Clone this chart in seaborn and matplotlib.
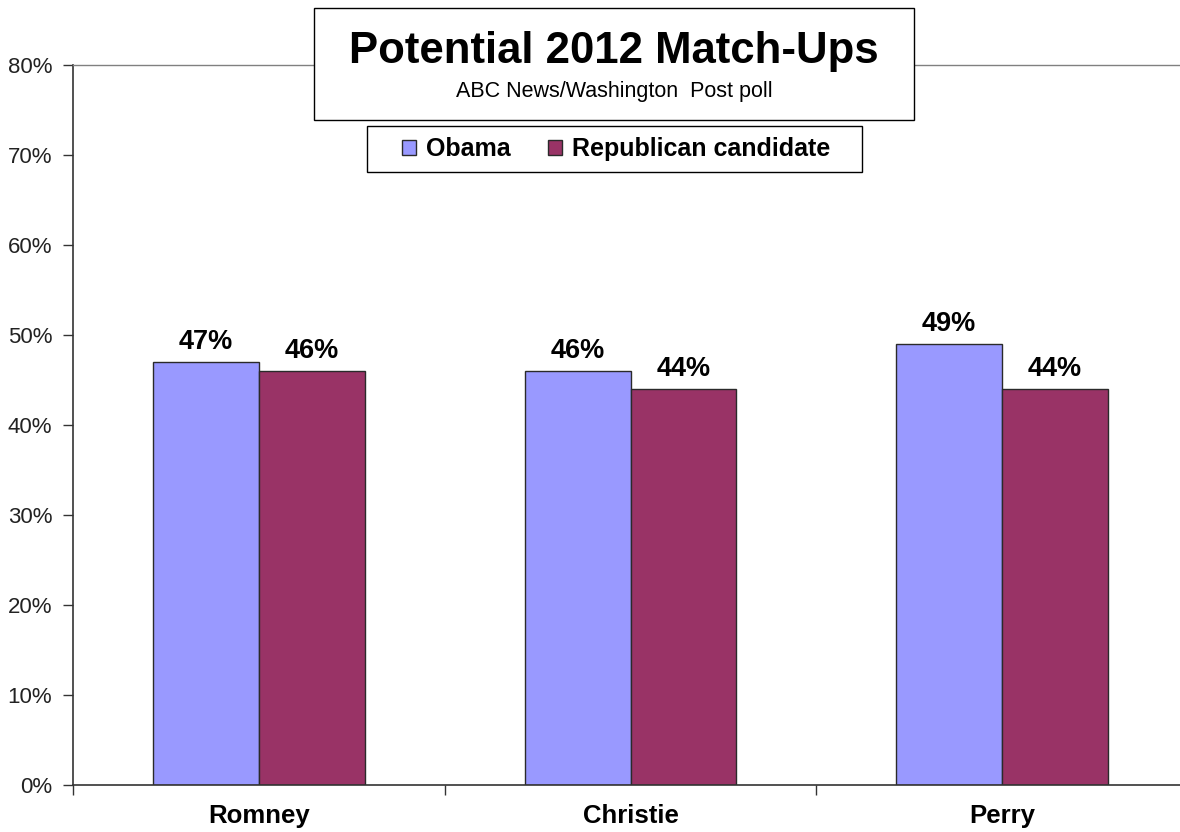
import matplotlib
matplotlib.use("Agg")
import matplotlib.pyplot as plt
from matplotlib.patches import Rectangle, Patch
from matplotlib.ticker import FixedLocator, PercentFormatter
import seaborn as sns
import pandas as pd

# ---- data ----
candidates = ["Romney", "Christie", "Perry"]
obama = [47, 46, 49]
republican = [46, 44, 44]
series_names = ["Obama", "Republican candidate"]
colors = {"Obama": "#9999FF", "Republican candidate": "#993366"}
title = "Potential 2012 Match-Ups"
subtitle = "ABC News/Washington  Post poll"

df = pd.DataFrame({
    "candidate": candidates * 2,
    "series": [series_names[0]] * 3 + [series_names[1]] * 3,
    "value": obama + republican,
})

sns.set_theme(style="white")
plt.rcParams["font.family"] = ["Liberation Sans", "DejaVu Sans"]

W, H = 1180, 832
fig = plt.figure(figsize=(W / 100, H / 100), dpi=100)
fig.patch.set_facecolor("white")

ax_left, ax_right, ax_top, ax_bottom = 73, 1188, 65, 785
ax = fig.add_axes([ax_left / W, 1 - ax_bottom / H,
                   (ax_right - ax_left) / W, (ax_bottom - ax_top) / H])

sns.barplot(data=df, x="candidate", y="value", hue="series",
            hue_order=series_names, palette=colors, width=0.57,
            edgecolor="#2a2a2a", linewidth=1.0, legend=False, ax=ax,
            saturation=1)

for cont in ax.containers:
    ax.bar_label(cont, labels=[f"{v:.0f}%" for v in cont.datavalues],
                 padding=5, fontsize=19.5, fontweight="bold", color="black")

ax.set_ylim(0, 80)
ax.set_xlim(-0.5, 2.5)
ax.set_yticks(range(0, 81, 10))
ax.yaxis.set_major_formatter(PercentFormatter(decimals=0))
ax.set_xlabel("")
ax.set_ylabel("")

ax.tick_params(axis="y", which="major", direction="out", length=7, width=1,
               color="#333333", labelsize=16, labelcolor="#222222", pad=8,
               left=True)
ax.tick_params(axis="x", which="major", length=0, labelsize=18.5, pad=14,
               labelcolor="black")
for lbl in ax.get_xticklabels():
    lbl.set_fontweight("bold")
ax.xaxis.set_minor_locator(FixedLocator([-0.5, 0.5, 1.5, 2.5]))
ax.tick_params(axis="x", which="minor", direction="out", length=7, width=1,
               color="#333333", bottom=True)

for side in ["left", "bottom"]:
    ax.spines[side].set_color("#333333")
    ax.spines[side].set_linewidth(1.2)
ax.spines["top"].set_color("#808080")
ax.spines["top"].set_linewidth(1.0)
ax.spines["right"].set_visible(False)
ax.grid(False)

# ---- title box ----
bx0, bx1, by0, by1 = 314, 914, 8, 120
fig.patches.append(Rectangle((bx0 / W, 1 - by1 / H), (bx1 - bx0) / W,
                             (by1 - by0) / H, transform=fig.transFigure,
                             facecolor="white", edgecolor="black",
                             linewidth=1.0, zorder=5))
fig.text((bx0 + bx1) / 2 / W, 1 - 63 / H, title, ha="center", va="baseline",
         fontsize=31.5, fontweight="bold", color="black", zorder=6)
fig.text((bx0 + bx1) / 2 / W, 1 - 97 / H, subtitle, ha="center",
         va="baseline", fontsize=15.5, color="black", zorder=6)

# ---- legend box ----
lx0, lx1, ly0, ly1 = 367, 862, 126, 172
fig.patches.append(Rectangle((lx0 / W, 1 - ly1 / H), (lx1 - lx0) / W,
                             (ly1 - ly0) / H, transform=fig.transFigure,
                             facecolor="white", edgecolor="black",
                             linewidth=1.0, zorder=5))
handles = [Patch(facecolor=colors[s], edgecolor="#2a2a2a", linewidth=1.0)
           for s in series_names]
leg = fig.legend(handles, series_names, loc="center",
                 bbox_to_anchor=((lx0 + lx1) / 2 / W + 1.5 / W,
                                 1 - (ly0 + ly1) / 2 / H),
                 bbox_transform=fig.transFigure, ncol=2, frameon=False,
                 prop={"size": 18, "weight": "bold"},
                 handlelength=0.55, handleheight=0.55, handletextpad=0.4,
                 columnspacing=1.5, borderpad=0.2)
for t in leg.get_texts():
    t.set_color("black")
leg.set_zorder(7)

fig.savefig("out.png", dpi=100, facecolor="white")
